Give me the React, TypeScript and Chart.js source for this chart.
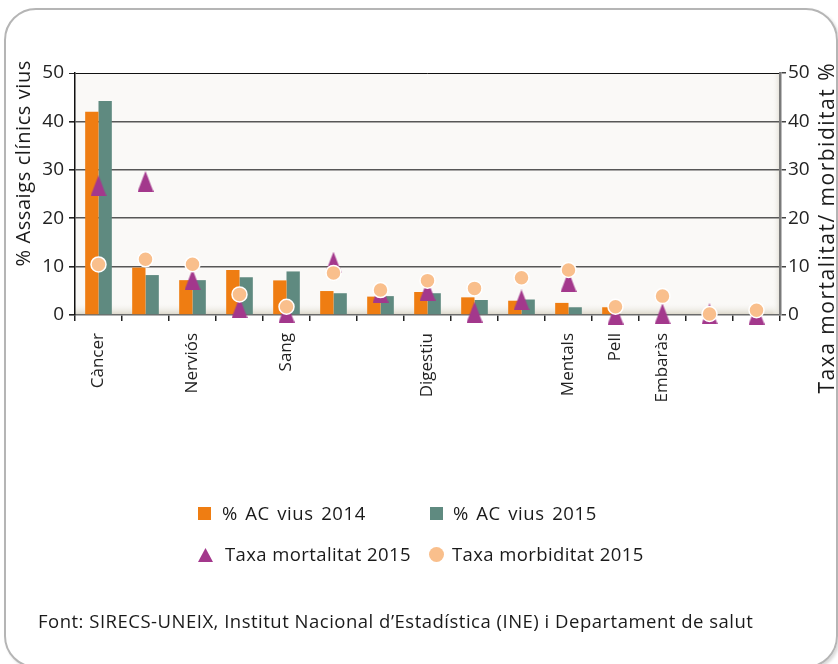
import React, { useEffect, useRef } from "react";
import { Chart, registerables } from "chart.js";

Chart.register(...registerables);

const categories = ["Càncer", "", "Nerviós", "", "Sang", "", "", "Digestiu", "", "", "Mentals", "Pell", "Embaràs", "", ""];
const ac2014 = [42.0, 9.8, 7.2, 9.3, 7.15, 4.95, 3.8, 4.75, 3.65, 2.95, 2.5, 1.6, 0, 0, 0];
const ac2015 = [44.2, 8.25, 7.2, 7.8, 9.0, 4.5, 3.9, 4.5, 3.1, 3.2, 1.6, 0, 0, 0, 0];
const mortalitat = [26.7, 27.6, 7.3, 1.5, 0.6, 10.9, 4.7, 5.1, 0.6, 3.1, 6.9, 0.2, 0.25, 0.25, 0.2];
const morbiditat = [10.45, 11.5, 10.5, 4.26, 1.7, 8.7, 5.15, 7.1, 5.5, 7.7, 9.3, 1.7, 3.9, 0.2, 1.0];
const seriesNames = ["% AC vius 2014", "% AC vius 2015", "Taxa mortalitat 2015", "Taxa morbiditat 2015"];
const axisMin = 0;
const axisMax = 50;
const axisStep = 10;
const leftTitle = "% Assaigs clínics vius";
const rightTitle = "Taxa mortalitat/ morbiditat %";
const sourceNote = "Font: SIRECS-UNEIX, Institut Nacional d’Estadística (INE) i Departament de salut";

const ORANGE = "#ef7d12";
const TEAL = "#5f8a80";
const PURPLE = "#a3388c";
const PEACH = "#f9bf8c";
const FONT = '"Open Sans", "Noto Sans", sans-serif';

function makeTriangle(color: string) {
  const c = document.createElement("canvas");
  c.width = 16;
  c.height = 21;
  const ctx = c.getContext("2d")!;
  ctx.fillStyle = color;
  ctx.beginPath();
  ctx.moveTo(8, 0);
  ctx.lineTo(16, 21);
  ctx.lineTo(0, 21);
  ctx.closePath();
  ctx.fill();
  return c;
}

const plotBackground = {
  id: "plotBackground",
  beforeDraw(chart: any) {
    const { ctx, chartArea } = chart;
    const { left, top, right, bottom } = chartArea;
    ctx.save();
    ctx.fillStyle = "#faf9f7";
    ctx.fillRect(left, top, right - left, bottom - top);
    const g = ctx.createLinearGradient(0, bottom - 12, 0, bottom);
    g.addColorStop(0, "rgba(250,249,247,0)");
    g.addColorStop(1, "#d8d3c4");
    ctx.fillStyle = g;
    ctx.fillRect(left, bottom - 12, right - left, 12);
    const g2 = ctx.createLinearGradient(right - 8, 0, right, 0);
    g2.addColorStop(0, "rgba(250,249,247,0)");
    g2.addColorStop(1, "#e2dfd6");
    ctx.fillStyle = g2;
    ctx.fillRect(right - 8, top, 8, bottom - top);
    ctx.restore();
  },
};

export default function App() {
  const ref = useRef<HTMLCanvasElement | null>(null);

  useEffect(() => {
    if (!ref.current) return;
    const tri = makeTriangle(PURPLE);
    const chart = new Chart(ref.current, {
      type: "bar",
      data: {
        labels: categories,
        datasets: [
          {
            type: "line",
            label: seriesNames[3],
            data: morbiditat,
            showLine: false,
            pointStyle: "circle",
            pointRadius: 7.5,
            pointHoverRadius: 7.5,
            backgroundColor: PEACH,
            borderColor: "#ffffff",
            pointBorderWidth: 1.5,
            order: 0,
            clip: false,
          } as any,
          {
            type: "line",
            label: seriesNames[2],
            data: mortalitat,
            showLine: false,
            pointStyle: tri,
            pointRadius: 9,
            pointHoverRadius: 9,
            backgroundColor: PURPLE,
            borderColor: PURPLE,
            order: 1,
            clip: false,
          } as any,
          {
            type: "bar",
            label: seriesNames[0],
            data: ac2014,
            backgroundColor: ORANGE,
            borderWidth: 0,
            barPercentage: 1,
            categoryPercentage: 0.567,
            order: 2,
          },
          {
            type: "bar",
            label: seriesNames[1],
            data: ac2015,
            backgroundColor: TEAL,
            borderWidth: 0,
            barPercentage: 1,
            categoryPercentage: 0.567,
            order: 3,
          },
        ],
      },
      options: {
        responsive: false,
        animation: false,
        devicePixelRatio: 1,
        layout: { padding: { top: 73, left: 0, right: 0, bottom: 0 } },
        plugins: {
          legend: { display: false },
          tooltip: { enabled: false },
          title: { display: false },
        },
        scales: {
          x: {
            offset: true,
            grid: {
              display: true,
              drawOnChartArea: false,
              drawTicks: true,
              tickLength: 6,
              tickColor: "#222",
              lineWidth: 1.5,
              offset: true,
            },
            border: { display: true, color: "#6b6b6b", width: 1.5 },
            ticks: {
              autoSkip: false,
              maxRotation: 90,
              minRotation: 90,
              padding: 12,
              color: "#222",
              font: { family: FONT, size: 17 },
            },
            afterFit: (s: any) => {
              s.height = 664 - 315;
            },
          },
          y: {
            position: "left",
            min: axisMin,
            max: axisMax,
            ticks: { stepSize: axisStep, padding: 5, color: "#222", font: { family: FONT, size: 19 } },
            grid: {
              color: (c: any) => (c.tick && c.tick.value === axisMax ? "#111" : c.tick && c.tick.value === axisMin ? "rgba(0,0,0,0)" : "#575757"),
              lineWidth: (c: any) => (c.tick && c.tick.value === axisMax ? 1 : 1.6),
              tickLength: 6,
              tickColor: "#222",
            },
            border: { color: "#111", width: 1.5 },
            afterFit: (s: any) => {
              s.width = 75;
            },
          },
          y2: {
            position: "right",
            min: axisMin,
            max: axisMax,
            ticks: { stepSize: axisStep, padding: 2, color: "#222", font: { family: FONT, size: 19 } },
            grid: { drawOnChartArea: false, tickLength: 6, tickColor: "#444", lineWidth: 1.5 },
            border: { color: "#7a7a7a", width: 2.5 },
            afterFit: (s: any) => {
              s.width = 58;
            },
          },
        },
      },
      plugins: [plotBackground],
    });
    return () => chart.destroy();
  }, []);

  const text = (extra: React.CSSProperties): React.CSSProperties => ({
    position: "absolute",
    fontFamily: FONT,
    color: "#1a1a1a",
    whiteSpace: "nowrap",
    ...extra,
  });

  return (
    <div style={{ position: "absolute", left: 0, top: 0, width: 838, height: 664, overflow: "hidden", background: "#fff" }}>
      <div
        style={{
          position: "absolute",
          left: 4,
          top: 8,
          width: 834,
          height: 660,
          boxSizing: "border-box",
          border: "2px solid #b5b5b5",
          borderRadius: 32,
          boxShadow: "2px 2px 3px rgba(0,0,0,0.15)",
        }}
      />
      <canvas ref={ref} width={838} height={664} style={{ position: "absolute", left: 0, top: 0, width: 838, height: 664 }} />
      <div
        style={text({
          left: 10,
          top: 360,
          width: 300,
          height: 26,
          lineHeight: "26px",
          fontSize: 20,
          letterSpacing: 0.6,
          textAlign: "right",
          transformOrigin: "0 0",
          transform: "rotate(-90deg)",
        })}
      >
        {leftTitle}
      </div>
      <div
        style={text({
          left: 813,
          top: 362,
          width: 340,
          height: 26,
          lineHeight: "26px",
          fontSize: 21,
          letterSpacing: 1.5,
          textAlign: "right",
          transformOrigin: "0 0",
          transform: "rotate(-90deg) translateX(-40px)",
        })}
      >
        {rightTitle}
      </div>
      {/* legend */}
      <div style={{ position: "absolute", left: 198, top: 507, width: 13, height: 13, background: ORANGE }} />
      <div style={text({ left: 222, top: 502, fontSize: 18.5, lineHeight: "22px", letterSpacing: 0.6, wordSpacing: 2 })}>{seriesNames[0]}</div>
      <div style={{ position: "absolute", left: 430, top: 507, width: 13, height: 13, background: TEAL }} />
      <div style={text({ left: 453, top: 502, fontSize: 18.5, lineHeight: "22px", letterSpacing: 0.6, wordSpacing: 2 })}>{seriesNames[1]}</div>
      <div
        style={{
          position: "absolute",
          left: 198,
          top: 548,
          width: 15,
          height: 14,
          background: PURPLE,
          clipPath: "polygon(50% 0, 100% 100%, 0 100%)",
        }}
      />
      <div style={text({ left: 225, top: 543, fontSize: 18.5, lineHeight: "22px", letterSpacing: 0.4 })}>{seriesNames[2]}</div>
      <div style={{ position: "absolute", left: 429, top: 547, width: 15, height: 15, borderRadius: "50%", background: PEACH }} />
      <div style={text({ left: 452, top: 543, fontSize: 18.5, lineHeight: "22px", letterSpacing: 0.4 })}>{seriesNames[3]}</div>
      <div style={text({ left: 38, top: 610, fontSize: 18.5, lineHeight: "22px", letterSpacing: 0.5 })}>{sourceNote}</div>
    </div>
  );
}
